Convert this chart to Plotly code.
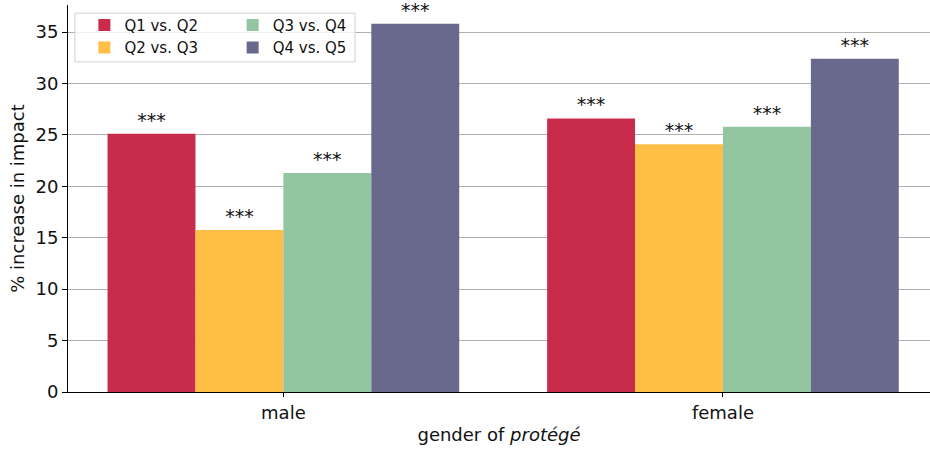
import plotly.graph_objects as go

categories = ["male", "female"]
series_names = ["Q1 vs. Q2", "Q2 vs. Q3", "Q3 vs. Q4", "Q4 vs. Q5"]
q1_q2 = [25.1, 26.6]
q2_q3 = [15.75, 24.1]
q3_q4 = [21.3, 25.8]
q4_q5 = [35.8, 32.4]
significance = ["***", "***"]
colors = ["#C92C4B", "#FFBE45", "#92C5A0", "#68698D"]

values = [q1_q2, q2_q3, q3_q4, q4_q5]
legend_ids = ["legend", "legend", "legend2", "legend2"]

FONT = "DejaVu Sans"

fig = go.Figure()
for name, vals, col, lg in zip(series_names, values, colors, legend_ids):
    fig.add_trace(go.Bar(
        x=categories, y=vals, name=name, marker=dict(color=col, line=dict(width=0)),
        text=significance, textposition="outside", cliponaxis=False,
        textfont=dict(family=FONT, size=19, color="#111"),
        constraintext="none", legend=lg,
    ))

fig.update_layout(
    width=930, height=449,
    margin=dict(l=68, r=0, t=5, b=57),
    plot_bgcolor="white", paper_bgcolor="white",
    font=dict(family=FONT, size=18, color="#111"),
    barmode="group", bargap=0.2, bargroupgap=0,
    showlegend=True,
    legend=dict(x=0.019, y=0.99, xanchor="left", yanchor="top",
                bgcolor="rgba(0,0,0,0)", font=dict(size=15), tracegroupgap=2,
                itemwidth=30),
    legend2=dict(x=0.191, y=0.99, xanchor="left", yanchor="top",
                 bgcolor="rgba(0,0,0,0)", font=dict(size=15), tracegroupgap=2,
                 itemwidth=30),
    xaxis=dict(
        range=[-0.49, 1.471], showline=True, linecolor="black", linewidth=1,
        ticks="outside", ticklen=4, tickcolor="black",
        title=dict(text="gender of <i>protégé</i>", font=dict(size=18), standoff=6),
        tickfont=dict(size=18), showgrid=False, zeroline=False,
    ),
    yaxis=dict(
        range=[0, 37.63], showline=True, linecolor="black", linewidth=1,
        ticks="outside", ticklen=5, tickcolor="black",
        tickvals=[0, 5, 10, 15, 20, 25, 30, 35], tickfont=dict(size=18),
        title=dict(text="% increase in impact", font=dict(size=18), standoff=6),
        showgrid=True, gridcolor="rgba(150,150,150,0.75)", gridwidth=1,
        zeroline=False, layer="above traces",
    ),
    shapes=[dict(type="rect", xref="paper", yref="paper",
                 x0=0.008, x1=0.333, y0=0.853, y1=0.979,
                 line=dict(color="#d0d0d0", width=1), fillcolor="rgba(255,255,255,0.8)",
                 layer="above")],
)

fig.write_html("out.html", config={"displayModeBar": False},
               post_script="document.body.style.margin='0';")
